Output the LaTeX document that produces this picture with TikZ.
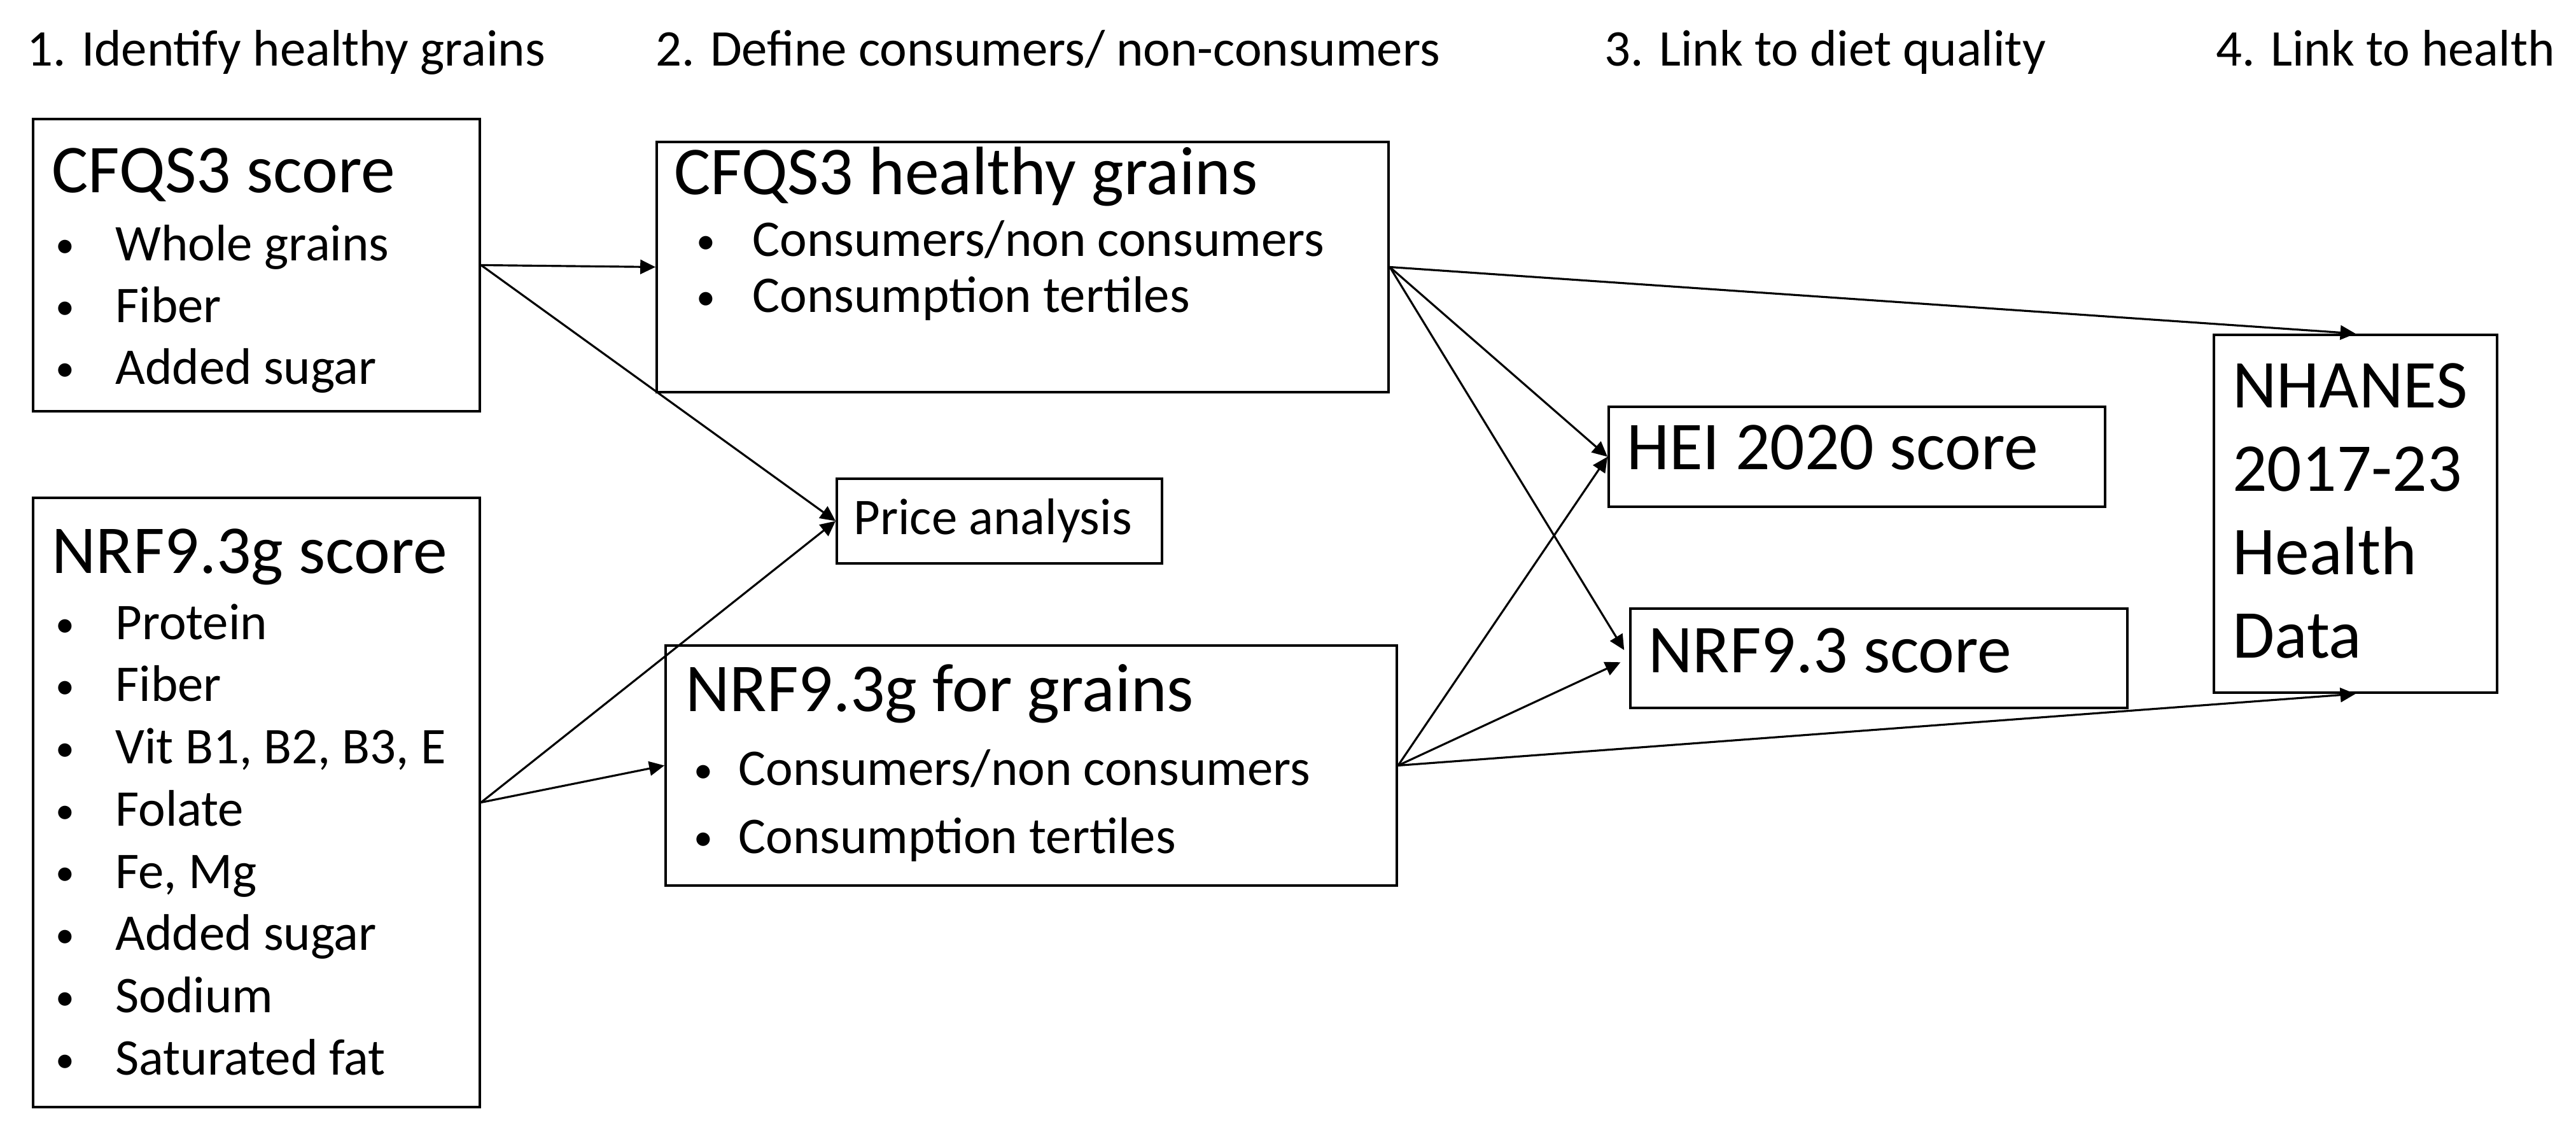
\documentclass[tikz,border=0pt]{standalone}
\usepackage{fontspec}
\setmainfont{Carlito}
\usetikzlibrary{arrows.meta}
\newcommand{\hd}{\fontsize{15.3}{18.6}\selectfont}
\newcommand{\sm}[1]{\fontsize{11.5}{#1}\selectfont}
\newcommand{\bul}{\raisebox{0.6pt}{\fontsize{8.5}{8.5}\selectfont\textbullet}}
\tikzset{
	box/.style={draw, line width=0.55pt, inner sep=0pt},
	txt/.style={anchor=base west, inner sep=0pt},
	arr/.style={line width=0.45pt, -{Triangle[length=3.4pt,width=3.2pt]}},
}
\begin{document}
\begin{tikzpicture}
			%%%%% START %%%%%
			\useasboundingbox (0,0) rectangle (20.24,8.93);
			
			\node[txt, font=\sm{13.8}] (head1) at (0.205,8.41) {1. Identify healthy grains};
			\node[txt, font=\sm{13.8}] (head2) at (5.145,8.41) {2. Define consumers/ non-consumers};
			\node[txt, font=\sm{13.8}] (head3) at (12.60,8.41) {3. Link to diet quality};
			\node[txt, font=\sm{13.8}] (head4) at (17.405,8.41) {4. Link to health};
			
			\node[box, minimum width=3.51cm, minimum height=2.295cm] (cfqs) at (2.015,6.8475) {};
			\node[txt] (cfqstxt) at (0.40,7.415) {\sm{13.8}%
				\begin{tabular}[t]{@{\hspace{0.03cm}}p{0.47cm}@{}l@{}}
					\multicolumn{2}{@{}l@{}}{\hd CFQS3 score}\\[1.3pt]
					\bul & Whole grains\\
					\bul & Fiber\\
					\bul & Added sugar
				\end{tabular}};
			
			\node[box, minimum width=3.51cm, minimum height=4.785cm] (nrfsc) at (2.015,2.6275) {};
			\node[txt] (nrfsctxt) at (0.40,4.425) {\sm{13.9}%
				\begin{tabular}[t]{@{\hspace{0.03cm}}p{0.47cm}@{}l@{}}
					\multicolumn{2}{@{}l@{}}{\hd NRF9.3g score}\\[0.8pt]
					\bul & Protein\\
					\bul & Fiber\\
					\bul & Vit B1, B2, B3, E\\
					\bul & Folate\\
					\bul & Fe, Mg\\
					\bul & Added sugar\\
					\bul & Sodium\\
					\bul & Saturated fat
				\end{tabular}};
			
			\node[box, minimum width=5.75cm, minimum height=1.965cm] (hg) at (8.035,6.8325) {};
			\node[txt] (hgtxt) at (5.29,7.40) {\sm{12.5}%
				\begin{tabular}[t]{@{\hspace{0.175cm}}p{0.44cm}@{}l@{}}
					\multicolumn{2}{@{}l@{}}{\hd CFQS3 healthy grains}\\[1.3pt]
					\bul & Consumers/non consumers\\
					\bul & Consumption tertiles
				\end{tabular}};
			
			\node[box, minimum width=2.555cm, minimum height=0.665cm] (price) at (7.8525,4.8375) {};
			\node[txt, font=\sm{13.8}] (pricetxt) at (6.70,4.73) {Price analysis};
			
			\node[box, minimum width=5.745cm, minimum height=1.885cm] (nrfgr) at (8.1025,2.9175) {};
			\node[txt] (nrfgrtxt) at (5.38,3.34) {\sm{15.2}%
				\begin{tabular}[t]{@{\hspace{0.065cm}}p{0.35cm}@{}l@{}}
					\multicolumn{2}{@{}l@{}}{\hd NRF9.3g for grains}\\[1.2pt]
					\bul & Consumers/non consumers\\
					\bul & Consumption tertiles
				\end{tabular}};
			
			\node[box, minimum width=3.90cm, minimum height=0.785cm] (hei) at (14.59,5.3425) {};
			\node[txt, font=\hd] (heitxt) at (12.775,5.24) {HEI 2020 score};
			
			\node[box, minimum width=3.905cm, minimum height=0.78cm] (nrf) at (14.7625,3.76) {};
			\node[txt, font=\hd] (nrftxt) at (12.945,3.645) {NRF9.3 score};
			
			\node[box, minimum width=2.225cm, minimum height=2.81cm] (nhanes) at (18.5075,4.895) {};
			\node[txt] (nhanestxt) at (17.535,5.725) {\hd%
				\begin{tabular}[t]{@{}l@{}}
					NHANES\\
					2017-23\\
					Health\\
					Data
				\end{tabular}};
			
			\draw[arr] (cfqs.east) -- (hg.west);
			\draw[arr] (cfqs.east) -- (price.west);
			\draw[arr] (nrfsc.east) -- (nrfgr.west);
			\draw[arr] (nrfsc.east) -- (price.west);
			
			\draw[arr] (hg.east) -- (hei.west);
			\draw[arr, shorten >=0.075cm] (hg.east) -- (nrf.west);
			\draw[arr] (hg.east) -- (nhanes.north);
			\draw[arr] (nrfgr.east) -- (hei.west);
			\draw[arr, shorten >=0.075cm] (nrfgr.east) -- (nrf.west);
			\draw[arr] (nrfgr.east) -- (nhanes.south);
			
			%%%%% END %%%%%
\end{tikzpicture}
\end{document}
